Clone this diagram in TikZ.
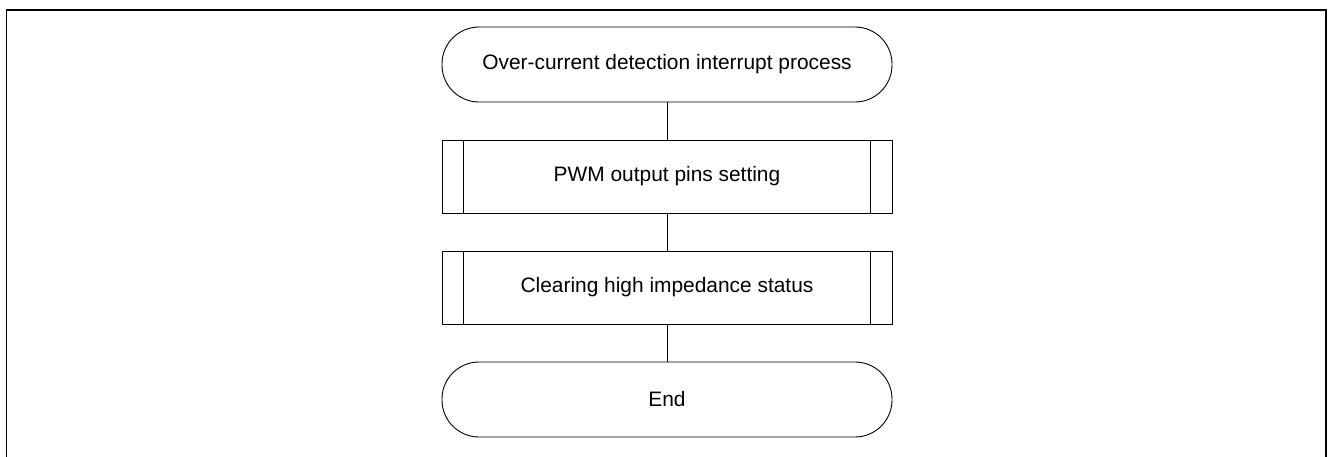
\documentclass[tikz,border=0pt]{standalone}
\usepackage{fontspec}
\setmainfont{Liberation Sans}
\begin{document}
\begin{tikzpicture}[x=1pt,y=-1pt,
  term/.style={draw, line width=0.9pt, rounded corners=37pt, minimum width=450pt, minimum height=75pt, inner sep=0pt, font=\fontsize{20.9}{25}\selectfont},
  proc/.style={draw, line width=0.9pt, minimum width=450pt, minimum height=73pt, inner sep=0pt, font=\fontsize{20.9}{25}\selectfont},
  conn/.style={line width=1pt}]
\useasboundingbox (0,0) rectangle (1328,456);
\draw[line width=1.6pt] (6.5,470) -- (6.5,10) -- (1326,10) -- (1326,470);
\node[term] (t1) at (667,64.5) {Over-current detection interrupt process};
\node[proc] (b1) at (667,176.5) {PWM output pins setting};
\node[proc] (b2) at (667,287.5) {Clearing high impedance status};
\node[term] (t2) at (667,399.5) {End};
\foreach \b in {b1,b2}{
  \draw[line width=0.9pt] ([xshift=22pt]\b.north west) -- ([xshift=22pt]\b.south west);
  \draw[line width=0.9pt] ([xshift=-22pt]\b.north east) -- ([xshift=-22pt]\b.south east);
}
\draw[conn] (t1) -- (b1);
\draw[conn] (b1) -- (b2);
\draw[conn] (b2) -- (t2);
\end{tikzpicture}
\end{document}
